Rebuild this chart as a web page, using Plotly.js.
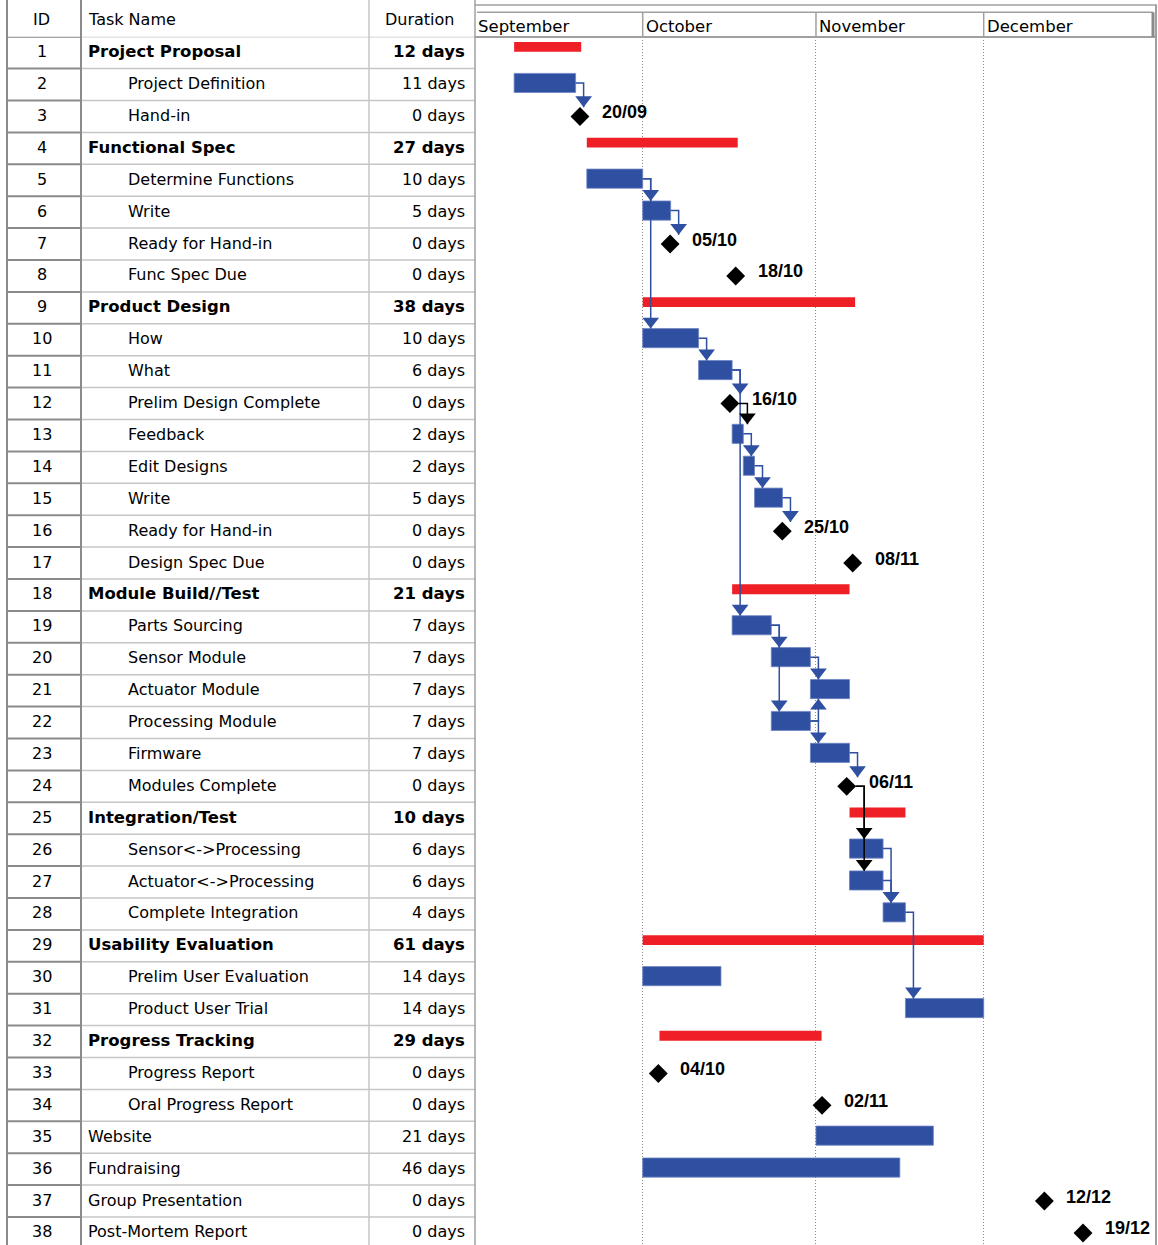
<!DOCTYPE html>
<html><head><meta charset="utf-8">
<script src="https://cdn.plot.ly/plotly-3.0.1.min.js"></script>
<style>html,body{margin:0;padding:0;background:#fff}#chart{width:1158px;height:1245px}</style>
</head><body><div id="chart"></div>
<script>
// ---------------- DATA ----------------
const taskIds = [1,2,3,4,5,6,7,8,9,10,11,12,13,14,15,16,17,18,19,20,21,22,23,24,25,26,27,28,29,30,31,32,33,34,35,36,37,38];
const taskNames = ['Project Proposal','Project Definition','Hand-in','Functional Spec','Determine Functions','Write','Ready for Hand-in','Func Spec Due','Product Design','How','What','Prelim Design Complete','Feedback','Edit Designs','Write','Ready for Hand-in','Design Spec Due','Module Build//Test','Parts Sourcing','Sensor Module','Actuator Module','Processing Module','Firmware','Modules Complete','Integration/Test','Sensor&lt;-&gt;Processing','Actuator&lt;-&gt;Processing','Complete Integration','Usability Evaluation','Prelim User Evaluation','Product User Trial','Progress Tracking','Progress Report','Oral Progress Report','Website','Fundraising','Group Presentation','Post-Mortem Report'];
const durationDays = [12,11,0,27,10,5,0,0,38,10,6,0,2,2,5,0,0,21,7,7,7,7,7,0,10,6,6,4,61,14,14,29,0,0,21,46,0,0];
const taskKinds = ['summary','task','milestone','summary','task','task','milestone','milestone','summary','task','task','milestone','task','task','task','milestone','milestone','summary','task','task','task','task','task','milestone','summary','task','task','task','summary','task','task','summary','milestone','milestone','task','task','milestone','milestone'];
const taskLevels = [0,1,1,0,1,1,1,1,0,1,1,1,1,1,1,1,1,0,1,1,1,1,1,1,0,1,1,1,0,1,1,0,1,1,0,0,0,0];
const taskStarts = ['2005-09-08','2005-09-08','2005-09-19 18:40','2005-09-21','2005-09-21','2005-10-01','2005-10-05 21:40','2005-10-17 15:20','2005-10-01','2005-10-01','2005-10-11','2005-10-16 14:20','2005-10-17','2005-10-19','2005-10-21','2005-10-25 23:20','2005-11-07 13:40','2005-10-17','2005-10-17','2005-10-24','2005-10-31','2005-10-24','2005-10-31','2005-11-06 11:45','2005-11-07','2005-11-07','2005-11-07','2005-11-13','2005-10-01','2005-10-01','2005-11-17','2005-10-04','2005-10-03 19:10','2005-11-02 02:00','2005-11-01','2005-10-01','2005-12-11 20:40','2005-12-18 18:30'];
const taskFinishes = ['2005-09-20','2005-09-19','2005-09-19 18:40','2005-10-18','2005-10-01','2005-10-06','2005-10-05 21:40','2005-10-17 15:20','2005-11-08','2005-10-11','2005-10-17','2005-10-16 14:20','2005-10-19','2005-10-21','2005-10-26','2005-10-25 23:20','2005-11-07 13:40','2005-11-07','2005-10-24','2005-10-31','2005-11-07','2005-10-31','2005-11-07','2005-11-06 11:45','2005-11-17','2005-11-13','2005-11-13','2005-11-17','2005-12-01','2005-10-15','2005-12-01','2005-11-02','2005-10-03 19:10','2005-11-02 02:00','2005-11-22','2005-11-16','2005-12-11 20:40','2005-12-18 18:30'];
const milestoneLabels = ['','','20/09','','','','05/10','18/10','','','','16/10','','','','25/10','08/11','','','','','','','06/11','','','','','','','','','04/10','02/11','','','12/12','19/12'];
const links = [[2,3],[5,6],[5,10],[6,7],[10,11],[11,12],[11,19],[12,13],[13,14],[14,15],[15,16],[19,20],[19,22],[20,21],[22,21],[22,23],[23,24],[24,26],[24,27],[26,28],[27,28],[28,31]];
const monthStarts = ['2005-09-01','2005-10-01','2005-11-01','2005-12-01'];
const monthNames = ['September','October','November','December'];
const headerLabels = ['ID','Task Name','Duration'];

// ---------------- HELPERS / STYLE ----------------
function toMs(s){const p=s.split(' ');const d=p[0].split('-').map(Number);let h=0,m=0;if(p[1]){const t=p[1].split(':').map(Number);h=t[0];m=t[1];}return Date.UTC(d[0],d[1]-1,d[2],h,m);}
const W=1158,H=1245,ROW_TOP=36.7,ROW_H=31.9,DAY=86400000,PXDAY=5.59;
const GX0=475,GX1=1155;
const xp=p=>p/W, yp=p=>1-p/H;
const X0=toMs('2005-09-01');
const X1=X0+(GX1-GX0)/PXDAY*DAY;
const msPerPx=(X1-X0)/(GX1-GX0);
const RED='#EE1F25',BLUE='#2F4FA0';
const FONT='DejaVu Sans';
const startMs=taskStarts.map(toMs), finishMs=taskFinishes.map(toMs);
const idx=k=>taskIds.map((_,i)=>i).filter(i=>taskKinds[i]===k);
const sumI=idx('summary'), taskI=idx('task'), msI=idx('milestone');

const traces=[];
traces.push({type:'bar',orientation:'h',y:sumI.map(i=>taskIds[i]),base:sumI.map(i=>startMs[i]),x:sumI.map(i=>finishMs[i]-startMs[i]),width:0.31,offset:-0.335,marker:{color:RED,line:{width:0}},hoverinfo:'skip'});
traces.push({type:'bar',orientation:'h',y:taskI.map(i=>taskIds[i]),base:taskI.map(i=>startMs[i]),x:taskI.map(i=>finishMs[i]-startMs[i]),width:0.6,offset:-0.35,marker:{color:BLUE,line:{color:'#6f84c4',width:0.8}},hoverinfo:'skip'});

// dependency links
const MS_HALF=9.2, ARR_SIZE=14.5, ARR_R=ARR_SIZE/2;
function topOf(id){return taskKinds[id-1]==='milestone'?id-MS_HALF/ROW_H:id-0.35;}
function botOf(id){return taskKinds[id-1]==='milestone'?id+MS_HALF/ROW_H:id+0.25;}
const lineB={x:[],y:[]}, lineK={x:[],y:[]};
const arrX=[],arrY=[],arrSym=[],arrCol=[];
links.forEach(([a,b])=>{
  const i=a-1; const fromMs=taskKinds[i]==='milestone';
  const L=fromMs?lineK:lineB;
  const x0=fromMs?finishMs[i]+9*msPerPx:finishMs[i];
  const y0=fromMs?a:a-0.05;
  const xv=finishMs[i]+(fromMs?17.5:8)*msPerPx;
  const down=b>a;
  const tip=down?topOf(b):botOf(b);
  L.x.push(x0,xv,xv,null); L.y.push(y0,y0,tip,null);
  arrX.push(xv); arrY.push(down?tip-ARR_R/ROW_H:tip+ARR_R/ROW_H);
  arrSym.push(down?'triangle-down':'triangle-up'); arrCol.push(fromMs?'#000':BLUE);
});
traces.push({type:'scatter',mode:'lines',x:lineB.x,y:lineB.y,line:{color:BLUE,width:1.5},connectgaps:false,hoverinfo:'skip'});
traces.push({type:'scatter',mode:'lines',x:lineK.x,y:lineK.y,line:{color:'#000',width:1.5},connectgaps:false,hoverinfo:'skip'});
traces.push({type:'scatter',mode:'markers',x:arrX,y:arrY,marker:{symbol:arrSym,size:ARR_SIZE,color:arrCol,line:{width:0}},hoverinfo:'skip'});
traces.push({type:'scatter',mode:'markers',x:msI.map(i=>startMs[i]),y:msI.map(i=>taskIds[i]),marker:{symbol:'diamond',size:14.5,color:'#000',line:{width:0}},hoverinfo:'skip'});

// ---------------- ANNOTATIONS ----------------
const ann=[];
taskIds.forEach((id,i)=>{
  const bold=taskKinds[i]==='summary';
  const f={family:FONT,size:bold?16.5:16,color:'#000',weight:bold?'bold':'normal'};
  ann.push({xref:'paper',yref:'y',x:xp(42),y:id,yshift:1,xanchor:'center',yanchor:'middle',text:String(id),showarrow:false,font:{family:FONT,size:16,color:'#000'}});
  ann.push({xref:'paper',yref:'y',x:xp(taskLevels[i]===0?85.5:126),y:id,yshift:1,xanchor:'left',yanchor:'middle',text:taskNames[i],showarrow:false,font:f});
  ann.push({xref:'paper',yref:'y',x:xp(467),y:id,yshift:1,xanchor:'right',yanchor:'middle',text:durationDays[i]+' days',showarrow:false,font:f});
  if(milestoneLabels[i]) ann.push({xref:'x',yref:'y',x:startMs[i],y:id,xanchor:'left',yanchor:'middle',xshift:20,yshift:4.5,text:milestoneLabels[i],showarrow:false,font:{family:'Liberation Sans',size:18,color:'#000',weight:'bold'}});
});
ann.push({xref:'paper',yref:'paper',x:xp(41),y:yp(20),xanchor:'center',yanchor:'middle',text:headerLabels[0],showarrow:false,font:{family:FONT,size:16,color:'#000'}});
ann.push({xref:'paper',yref:'paper',x:xp(85.5),y:yp(20),xanchor:'left',yanchor:'middle',text:headerLabels[1],showarrow:false,font:{family:FONT,size:16,color:'#000'}});
ann.push({xref:'paper',yref:'paper',x:xp(420),y:yp(20),xanchor:'center',yanchor:'middle',text:headerLabels[2],showarrow:false,font:{family:FONT,size:16,color:'#000'}});
monthStarts.forEach((m,k)=>ann.push({xref:'x',yref:'paper',x:toMs(m),y:yp(26.5),xanchor:'left',yanchor:'middle',xshift:1,text:monthNames[k],showarrow:false,font:{family:FONT,size:16.5,color:'#000'}}));

// ---------------- SHAPES ----------------
const shp=[];
const DARK='#8a8a8a', LIGHT='#c6c6c6', MID='#a0a0a0';
function pl(x0,y0,x1,y1,c,w,xr,yr){shp.push({type:'line',xref:xr||'paper',yref:yr||'paper',x0:x0,y0:y0,x1:x1,y1:y1,line:{color:c,width:w},layer:'above'});}
for(let k=0;k<taskIds.length;k++){
  pl(xp(7),k+0.5,xp(81),k+0.5,DARK,2,'paper','y');
  pl(xp(81),k+0.5,xp(475),k+0.5,LIGHT,1.5,'paper','y');
}
pl(xp(7),0,xp(7),1,DARK,2);
pl(xp(81),0,xp(81),1,DARK,2);
pl(xp(369),0,xp(369),1,LIGHT,1.5);
pl(xp(475),0,xp(475),1,MID,1.5);
pl(xp(475),yp(5),xp(1157),yp(5),MID,1.5);
pl(xp(477),yp(12.3),xp(1153),yp(12.3),MID,1.5);
pl(xp(475),yp(37),xp(1155),yp(37),MID,2);
pl(xp(1153),yp(12.3),xp(1153),yp(37),DARK,3);
pl(xp(1156),yp(5),xp(1156),0,MID,2);
monthStarts.slice(1).forEach(m=>pl(toMs(m),yp(12.3),toMs(m),yp(37),MID,1.5,'x','paper'));

const layout={
  width:W,height:H,margin:{l:0,r:0,t:0,b:0,pad:0},paper_bgcolor:'#fff',plot_bgcolor:'#fff',
  showlegend:false,barmode:'overlay',hovermode:false,
  xaxis:{type:'date',domain:[xp(GX0),xp(GX1)],range:[X0,X1],autorange:false,showgrid:true,
    tickvals:monthStarts.slice(1).map(toMs),gridcolor:'#8a8a8a',gridwidth:1,griddash:'1px,2px',
    showticklabels:false,ticks:'',zeroline:false,showline:false,fixedrange:true},
  yaxis:{type:'linear',domain:[0,1-ROW_TOP/H],range:[0.5+(H-ROW_TOP)/ROW_H,0.5],autorange:false,
    showgrid:false,showticklabels:false,ticks:'',zeroline:false,showline:false,fixedrange:true},
  annotations:ann,shapes:shp
};
Plotly.newPlot('chart',traces,layout,{displayModeBar:false,staticPlot:true});
</script></body></html>
